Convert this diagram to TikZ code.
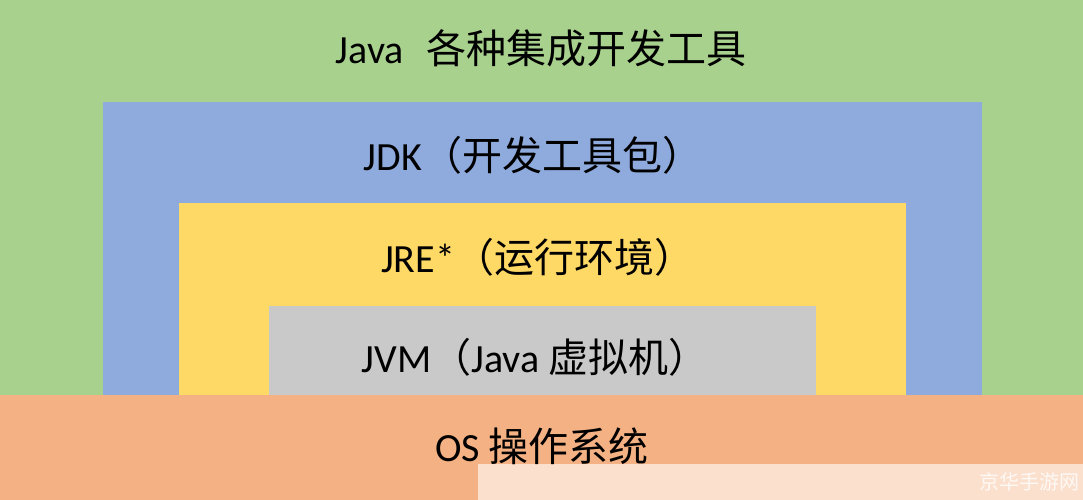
\documentclass[tikz,border=0pt]{standalone}
\usepackage{fontspec}
\setmainfont{Carlito}
\newfontfamily\cjk{Noto Sans CJK SC}
\definecolor{toolgreen}{HTML}{A9D18E}
\definecolor{jdkblue}{HTML}{8FAADC}
\definecolor{jreyellow}{HTML}{FFD966}
\definecolor{jvmgray}{HTML}{C9C9C9}
\definecolor{osorange}{HTML}{F4B183}
\definecolor{markpale}{HTML}{FBE0CE}

\begin{document}
\begin{tikzpicture}[x=1pt, y=-1pt,
        layer/.style={font=\fontsize{40}{46}\selectfont, color=black, inner sep=0pt}]
      \useasboundingbox (0,0) rectangle (1083,500);
      % nested layers, outermost first
      \fill[toolgreen] (0,0) rectangle (1083,500);
      \fill[jdkblue] (103,102) rectangle (982,395);
      \fill[jreyellow] (179,203) rectangle (906,395);
      \fill[jvmgray] (269,306) rectangle (816,395);
      \fill[osorange] (0,395) rectangle (1083,500);
      \fill[markpale] (478,464) rectangle (1083,500);
      % labels
      \node (tools) [layer] at (541,48) {Java\,\, {\cjk 各种集成开发工具}};
      \node (jdk) [layer] at (533,155) {JDK{\cjk （开发工具包）}};
      \node (jre) [layer] at (538,257) {JRE*{\cjk （运行环境）}};
      \node (jvm) [layer] at (535,357) {JVM{\cjk （}Java {\cjk 虚拟机）}};
      \node (os) [layer] at (542,446) {OS {\cjk 操作系统}};
      \node (wm) [font=\fontsize{20}{22}\selectfont, color=white, opacity=0.8, anchor=east, inner sep=0pt] at (1080,482) {\cjk 京华手游网};
    \end{tikzpicture}
\end{document}
